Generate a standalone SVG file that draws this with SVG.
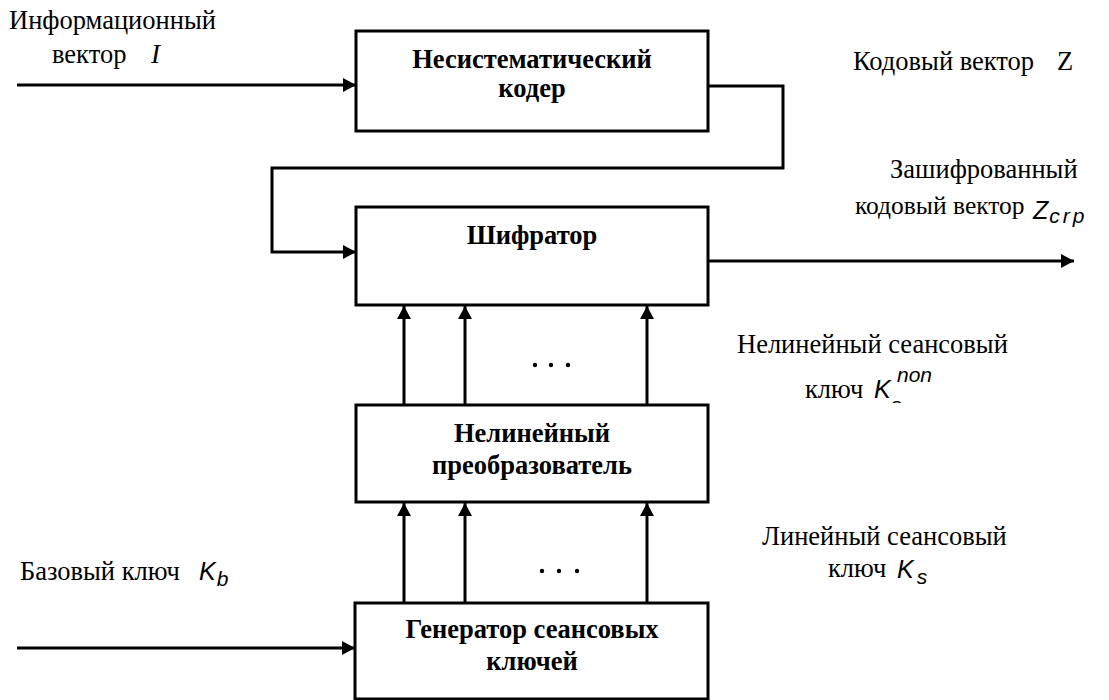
<svg xmlns="http://www.w3.org/2000/svg" width="1109" height="700" viewBox="0 0 1109 700">
<style>
  .box{fill:#fff;stroke:#000;stroke-width:3}
  .ln{fill:none;stroke:#000;stroke-width:3}
  .b{font-family:"Liberation Serif","Times New Roman",serif;font-weight:bold;font-size:26.5px;text-anchor:middle;fill:#000}
  .t{font-family:"Liberation Serif","Times New Roman",serif;font-size:26.5px;fill:#000}
  .ti{font-family:"Liberation Serif","Times New Roman",serif;font-size:27px;font-style:italic;fill:#000}
  .m{font-family:"Liberation Sans",Arial,sans-serif;font-style:italic;font-size:25px;fill:#000}
  .ms{font-family:"Liberation Sans",Arial,sans-serif;font-style:italic;font-size:21px;fill:#000}
</style>
<defs>
  <marker id="ah" markerUnits="userSpaceOnUse" markerWidth="14" markerHeight="14" refX="13" refY="7" orient="auto">
    <path d="M0,0 L13,7 L0,14 z" fill="#000"/>
  </marker>
  <clipPath id="clipS"><rect x="880" y="380" width="40" height="23"/></clipPath>
</defs>
<rect width="1109" height="700" fill="#fff"/>

<g id="connectors">
  <line class="ln" x1="17" y1="85" x2="356" y2="85" marker-end="url(#ah)"/>
  <polyline class="ln" points="708,86 783,86 783,168 272,168 272,252 356,252" marker-end="url(#ah)"/>
  <line class="ln" x1="708" y1="261" x2="1074" y2="261" marker-end="url(#ah)"/>
  <line class="ln" x1="404" y1="405" x2="404" y2="306" marker-end="url(#ah)"/>
  <line class="ln" x1="465" y1="405" x2="465" y2="306" marker-end="url(#ah)"/>
  <line class="ln" x1="647" y1="405" x2="647" y2="306" marker-end="url(#ah)"/>
  <line class="ln" x1="404" y1="603" x2="404" y2="503" marker-end="url(#ah)"/>
  <line class="ln" x1="465" y1="603" x2="465" y2="503" marker-end="url(#ah)"/>
  <line class="ln" x1="647" y1="603" x2="647" y2="503" marker-end="url(#ah)"/>
  <line class="ln" x1="17" y1="648" x2="355" y2="648" marker-end="url(#ah)"/>
  <g id="dots" fill="#000">
    <circle cx="535" cy="365" r="2.2"/><circle cx="551" cy="365" r="2.2"/><circle cx="568" cy="365" r="2.2"/>
    <circle cx="542" cy="571" r="2.2"/><circle cx="559" cy="571" r="2.2"/><circle cx="577" cy="571" r="2.2"/>
  </g>
</g>

<g id="coder">
  <rect class="box" x="356" y="31" width="352" height="100"/>
  <text class="b" x="532" y="68">Несистематический</text>
  <text class="b" x="532" y="97">кодер</text>
</g>
<g id="cipher">
  <rect class="box" x="356" y="207" width="352" height="98"/>
  <text class="b" x="532" y="244">Шифратор</text>
</g>
<g id="nonlinear">
  <rect class="box" x="356" y="405" width="352" height="97"/>
  <text class="b" x="532" y="442">Нелинейный</text>
  <text class="b" x="532" y="474">преобразователь</text>
</g>
<g id="generator">
  <rect class="box" x="355" y="603" width="353" height="96"/>
  <text class="b" x="532" y="638">Генератор сеансовых</text>
  <text class="b" x="532" y="670">ключей</text>
</g>

<g id="labels">
  <text class="t" x="9" y="29">Информационный</text>
  <text class="t" x="52" y="63">вектор</text>
  <text class="ti" x="151" y="63">I</text>

  <text class="t" x="853" y="70">Кодовый вектор</text>
  <text class="t" x="1057" y="70">Z</text>

  <text class="t" x="890" y="178">Зашифрованный</text>
  <text class="t" x="855" y="214" style="font-size:25.5px">кодовый вектор</text>
  <text class="m" x="1033" y="219">Z<tspan class="ms" dy="4" dx="1" letter-spacing="3">crp</tspan></text>

  <text class="t" x="737" y="353">Нелинейный сеансовый</text>
  <text class="t" x="805" y="398">ключ</text>
  <text class="m" x="874" y="398">K</text>
  <text class="ms" x="897" y="382">non</text>
  <text class="ms" x="891" y="412" clip-path="url(#clipS)">s</text>

  <text class="t" x="762" y="545">Линейный сеансовый</text>
  <text class="t" x="828" y="577">ключ</text>
  <text class="m" x="897" y="578">K<tspan class="ms" dy="6" dx="3">s</tspan></text>

  <text class="t" x="20" y="580">Базовый ключ</text>
  <text class="m" x="199" y="580">K<tspan class="ms" dy="6" dx="1">b</tspan></text>
</g>
</svg>
